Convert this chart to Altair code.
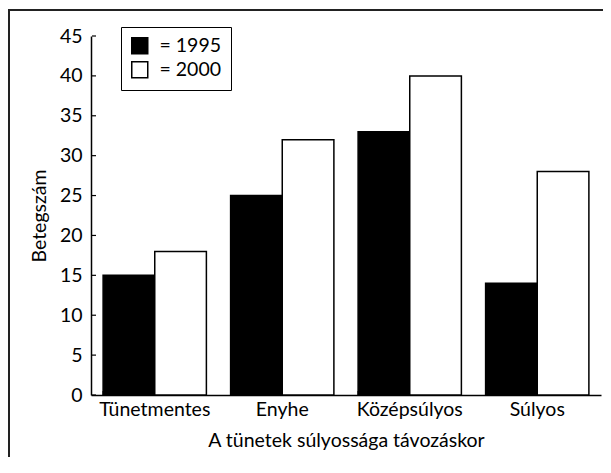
import altair as alt
import pandas as pd

categories = ["Tünetmentes", "Enyhe", "Középsúlyos", "Súlyos"]
years = ["1995", "2000"]
values_1995 = [15, 25, 33, 14]
values_2000 = [18, 32, 40, 28]
y_ticks = [0, 5, 10, 15, 20, 25, 30, 35, 40, 45]

FONT = "Lato"
FS = 19.5
W, H = 510, 359

rows = []
for c, a, b in zip(categories, values_1995, values_2000):
    rows.append({"cat": c, "year": "1995", "n": a})
    rows.append({"cat": c, "year": "2000", "n": b})
df = pd.DataFrame(rows)

xscale = alt.Scale(domain=categories, paddingInner=0.19, paddingOuter=0.095)
yscale = alt.Scale(domain=[0, 45], nice=False)

x_axis = alt.Axis(title="A tünetek súlyossága távozáskor", labelAngle=0,
                  tickSize=0, labelPadding=5, titlePadding=13,
                  labelFontSize=FS, titleFontSize=FS, labelFont=FONT, titleFont=FONT,
                  labelOverlap=False, domainColor="black", domainWidth=1.5)
y_axis = alt.Axis(title="Betegszám", values=y_ticks, tickSize=0, labelPadding=9,
                  labelOverlap=False, labelFontSize=FS, titleFontSize=FS,
                  labelFont=FONT, titleFont=FONT,
                  titlePadding=10, grid=False, domainColor="black", domainWidth=1.5)

bars = alt.Chart(df).mark_bar(stroke="black", strokeWidth=1.5).encode(
    x=alt.X("cat:N", scale=xscale, sort=categories, axis=x_axis),
    xOffset=alt.XOffset("year:N", scale=alt.Scale(domain=years, paddingInner=0, paddingOuter=0)),
    y=alt.Y("n:Q", scale=yscale, axis=y_axis),
    color=alt.Color("year:N", scale=alt.Scale(domain=years, range=["black", "white"]),
                    legend=alt.Legend(title=None, orient="none", legendX=30, legendY=-9,
                                      labelExpr="'= ' + datum.label", symbolType="square",
                                      symbolSize=256, symbolStrokeColor="black",
                                      symbolStrokeWidth=1.5, strokeColor="black",
                                      padding=9, rowPadding=1, labelFontSize=FS,
                                      labelFont=FONT, labelColor="black", labelOffset=10,
                                      symbolOpacity=1)),
)

ytick_df = pd.DataFrame({"v": y_ticks})
yticks = alt.Chart(ytick_df).mark_rule(color="black", strokeWidth=1.2).encode(
    y=alt.Y("v:Q", scale=yscale, axis=y_axis),
    x=alt.value(1), x2=alt.value(5),
)

xtick_df = pd.DataFrame({"cat": categories})
xticks = alt.Chart(xtick_df).mark_rule(color="black", strokeWidth=1.2).encode(
    x=alt.X("cat:N", scale=xscale, sort=categories, bandPosition=0, axis=x_axis),
    y=alt.value(H), y2=alt.value(H - 4),
)

one = pd.DataFrame({"a": [0]})
frame_left = alt.Chart(one).mark_rect(color="#222").encode(
    x=alt.value(-83), x2=alt.value(-81), y=alt.value(-27), y2=alt.value(H + 80),
)
frame_top = alt.Chart(one).mark_rect(color="#222").encode(
    x=alt.value(-83), x2=alt.value(W + 2), y=alt.value(-27), y2=alt.value(-25),
)

chart = alt.layer(bars, yticks, xticks, frame_left, frame_top).properties(
    width=W, height=H,
    padding={"left": 83, "top": 28, "right": 2, "bottom": 62},
    autosize=alt.AutoSizeParams(type="none"),
).configure_view(stroke=None).configure_axis(
    labelColor="black", titleColor="black", titleFontWeight="normal",
)

chart.save("out.html", embed_options={"renderer": "svg", "actions": False})
